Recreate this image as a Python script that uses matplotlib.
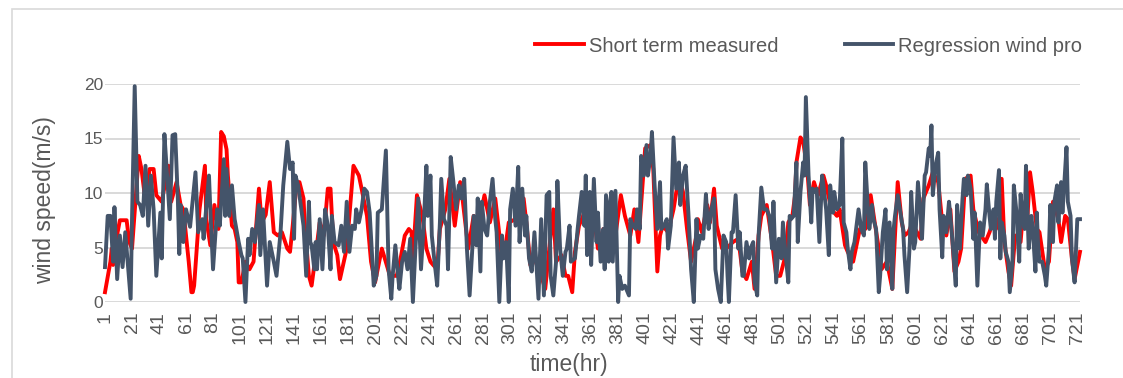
import matplotlib
matplotlib.use("Agg")
import matplotlib.pyplot as plt
from matplotlib import font_manager
from matplotlib.patches import Rectangle

# Hourly wind speed (m/s): measured short-term record
hours_measured = [
    1, 5, 6, 7, 9, 12, 17, 19, 21, 26, 28, 31, 34, 37, 39, 43, 48, 50, 54, 57, 59, 63, 65, 66, 67,
    71, 75, 76, 79, 82, 85, 87, 89, 91, 92, 95, 97, 99, 100, 102, 105, 108, 111, 115, 117, 120,
    123, 126, 129, 132, 136, 138, 140, 143, 145, 148, 149, 152, 154, 157, 160, 163, 166, 168, 170,
    173, 175, 180, 185, 189, 191, 195, 198, 201, 206, 212, 217, 219, 223, 226, 228, 229, 232, 236,
    239, 242, 244, 247, 249, 253, 256, 260, 264, 266, 270, 274, 278, 282, 286, 290, 292, 295, 297,
    300, 305, 308, 311, 313, 316, 319, 324, 327, 329, 333, 335, 339, 342, 344, 347, 349, 352, 355,
    359, 363, 366, 370, 374, 379, 383, 386, 390, 393, 396, 398, 401, 405, 407, 410, 412, 414, 418,
    422, 426, 429, 432, 435, 439, 440, 443, 447, 449, 452, 454, 458, 461, 466, 470, 473, 476, 480,
    482, 485, 487, 491, 495, 498, 501, 505, 507, 510, 512, 513, 516, 518, 521, 523, 526, 529, 533,
    535, 539, 543, 545, 549, 551, 555, 560, 564, 568, 571, 574, 576, 580, 584, 587, 588, 591, 593,
    596, 598, 601, 605, 607, 611, 614, 618, 621, 624, 627, 630, 633, 635, 638, 642, 644, 648, 653,
    656, 660, 663, 665, 667, 670, 672, 675, 679, 681, 684, 686, 688, 691, 693, 697, 700, 703, 707,
    709, 712, 714, 717, 719, 723,
]
speed_measured = [
    0.9, 3.7, 4.9, 3.4, 5.5, 7.5, 7.5, 5.5, 4.9, 13.4, 12.2, 9.2, 12.2, 12.2, 9.8, 9.2, 12.5, 9.2,
    11.0, 8.9, 8.5, 3.7, 0.9, 0.9, 1.5, 8.5, 12.5, 7.6, 5.2, 8.9, 6.7, 15.6, 15.2, 14.0, 11.6, 7.0,
    6.7, 5.5, 1.8, 1.8, 3.7, 3.0, 3.7, 10.4, 7.3, 8.0, 11.0, 6.4, 6.1, 6.4, 4.9, 4.6, 7.0, 11.0,
    11.0, 9.5, 7.0, 2.4, 1.5, 4.3, 7.3, 6.1, 10.4, 10.4, 5.5, 4.3, 2.1, 4.9, 12.5, 11.6, 10.4, 7.9,
    3.7, 1.8, 4.9, 2.4, 2.4, 3.4, 6.1, 6.7, 6.4, 4.0, 9.8, 7.9, 4.9, 3.7, 3.4, 3.0, 6.7, 8.5, 11.3,
    7.0, 11.0, 9.2, 4.9, 7.9, 7.3, 9.8, 7.3, 9.5, 7.3, 4.0, 4.6, 7.3, 7.6, 9.2, 9.5, 7.3, 3.4, 4.0,
    2.4, 1.2, 3.7, 8.5, 3.7, 4.3, 2.4, 2.4, 0.9, 4.6, 7.0, 7.9, 9.8, 7.9, 4.9, 6.7, 4.9, 6.1, 9.8,
    7.9, 6.1, 8.5, 5.5, 8.9, 14.1, 14.4, 12.2, 2.8, 6.1, 7.0, 6.4, 8.5, 11.6, 10.1, 6.7, 3.7, 6.1,
    7.6, 6.4, 8.9, 7.3, 10.4, 7.0, 4.9, 4.9, 5.5, 5.8, 2.8, 2.1, 3.7, 1.2, 6.1, 7.9, 8.9, 5.5, 2.4,
    2.4, 4.3, 7.3, 7.9, 9.8, 12.8, 15.1, 14.7, 12.2, 8.9, 11.0, 9.8, 11.6, 10.7, 8.5, 7.9, 8.5, 5.2,
    4.6, 3.7, 6.7, 6.7, 9.8, 7.3, 4.9, 3.0, 3.7, 1.2, 8.5, 11.0, 7.3, 6.1, 6.4, 7.0, 6.7, 5.8, 9.5,
    10.7, 11.9, 11.0, 7.3, 6.1, 8.5, 2.8, 3.7, 4.9, 11.3, 11.6, 8.5, 6.4, 5.5, 6.4, 7.9, 6.7, 11.3,
    5.5, 2.8, 1.5, 6.1, 5.5, 8.5, 7.6, 11.9, 10.1, 6.7, 6.4, 3.0, 3.7, 9.2, 7.6, 5.5, 7.9, 7.6, 4.0,
    2.1, 4.6,
]

# Hourly wind speed (m/s): regression wind profile
hours_regression = [
    1, 3, 5, 7, 8, 10, 12, 14, 16, 20, 21, 23, 25, 27, 29, 31, 33, 35, 37, 39, 42, 43, 45, 47, 49,
    51, 53, 55, 56, 57, 59, 61, 64, 68, 70, 73, 74, 78, 79, 81, 84, 86, 89, 90, 91, 93, 95, 97, 100,
    102, 103, 105, 107, 108, 110, 112, 115, 116, 118, 121, 123, 126, 128, 131, 133, 136, 138, 140,
    141, 142, 144, 147, 148, 150, 152, 153, 154, 156, 157, 158, 160, 162, 164, 166, 168, 169, 171,
    174, 176, 178, 180, 182, 184, 186, 187, 189, 191, 193, 195, 197, 200, 202, 203, 206, 209, 211,
    213, 214, 216, 218, 219, 221, 223, 225, 227, 229, 231, 233, 235, 237, 239, 240, 242, 243, 245,
    247, 249, 250, 252, 254, 255, 257, 259, 261, 263, 265, 267, 269, 271, 273, 274, 276, 277, 279,
    280, 282, 284, 286, 288, 290, 291, 293, 295, 296, 298, 300, 301, 303, 305, 307, 308, 310, 312,
    313, 315, 317, 319, 321, 322, 324, 326, 328, 330, 331, 333, 335, 336, 338, 340, 342, 343, 345,
    346, 349, 351, 352, 354, 356, 357, 358, 360, 361, 363, 365, 366, 368, 370, 371, 372, 374, 375,
    376, 377, 379, 381, 382, 384, 386, 389, 390, 392, 394, 395, 397, 398, 400, 402, 403, 405, 406,
    408, 410, 412, 413, 415, 417, 418, 420, 422, 424, 426, 427, 429, 431, 433, 435, 437, 439, 440,
    442, 444, 446, 447, 448, 450, 452, 453, 455, 457, 459, 461, 462, 463, 465, 466, 468, 470, 471,
    473, 474, 476, 478, 479, 481, 482, 484, 485, 487, 489, 491, 493, 495, 496, 498, 500, 502, 503,
    505, 507, 508, 509, 511, 513, 514, 516, 518, 519, 520, 522, 524, 525, 527, 528, 530, 532, 533,
    535, 537, 538, 540, 541, 543, 545, 547, 548, 550, 551, 553, 554, 556, 559, 561, 563, 564, 566,
    567, 569, 570, 572, 574, 575, 577, 579, 580, 582, 584, 585, 586, 588, 590, 592, 593, 595, 597,
    598, 600, 601, 603, 605, 606, 608, 609, 611, 612, 613, 614, 616, 618, 619, 621, 622, 624, 626,
    627, 629, 631, 632, 634, 636, 637, 639, 640, 642, 644, 645, 647, 649, 651, 653, 654, 656, 657,
    659, 660, 661, 663, 664, 665, 667, 668, 670, 671, 673, 674, 676, 677, 678, 679, 681, 682, 683,
    685, 687, 688, 690, 691, 692, 693, 695, 697, 698, 700, 701, 703, 704, 706, 707, 709, 710, 711,
    713, 714, 716, 717, 719, 721, 723,
]
speed_regression = [
    3.2, 7.9, 7.9, 3.7, 8.7, 2.1, 6.1, 3.2, 6.4, 0.3, 7.6, 19.8, 9.2, 8.9, 7.9, 12.5, 7.0, 11.6,
    8.5, 2.4, 8.2, 4.0, 15.4, 11.6, 7.6, 15.3, 15.4, 9.2, 4.4, 8.9, 5.5, 8.5, 6.9, 11.9, 6.4, 7.6,
    5.8, 11.6, 8.5, 3.0, 8.5, 7.0, 13.1, 7.9, 12.2, 7.9, 10.7, 7.6, 5.5, 4.3, 4.0, 0.0, 5.8, 4.3,
    6.7, 5.5, 8.9, 4.3, 8.5, 1.5, 5.5, 3.7, 2.4, 6.4, 10.7, 14.7, 12.2, 12.8, 5.8, 11.6, 10.7, 7.9,
    7.0, 2.4, 9.2, 5.5, 5.2, 3.0, 5.5, 3.0, 7.6, 3.0, 8.5, 7.0, 3.0, 7.9, 5.5, 5.2, 7.0, 4.6, 9.2,
    4.6, 7.0, 6.7, 8.5, 7.3, 8.5, 10.4, 10.1, 8.2, 1.5, 2.4, 8.2, 8.5, 13.9, 3.0, 0.3, 2.4, 5.2,
    2.4, 1.2, 3.7, 4.6, 3.0, 5.8, 0.0, 5.2, 9.5, 3.0, 7.0, 12.5, 7.9, 11.6, 6.1, 3.7, 1.5, 7.3,
    11.3, 7.6, 7.0, 3.0, 13.3, 11.0, 8.5, 10.7, 9.5, 11.3, 4.9, 0.6, 4.9, 7.9, 5.2, 9.5, 2.8, 9.2,
    6.7, 6.1, 9.2, 11.3, 7.6, 6.4, 0.0, 6.1, 4.0, 5.5, 0.0, 8.5, 10.4, 7.0, 12.4, 5.5, 10.4, 6.1,
    7.9, 4.0, 2.8, 6.4, 2.4, 0.3, 7.6, 0.6, 9.8, 10.1, 2.4, 0.6, 3.7, 11.1, 4.9, 2.4, 4.6, 4.9, 7.0,
    3.7, 4.0, 6.7, 7.9, 10.1, 7.0, 11.6, 4.3, 10.1, 3.4, 11.3, 5.5, 8.2, 3.7, 6.7, 3.0, 9.8, 3.7,
    9.2, 10.1, 3.7, 10.2, 0.0, 2.4, 1.2, 1.5, 0.6, 7.6, 7.0, 6.7, 8.5, 6.7, 13.4, 11.6, 14.4, 11.6,
    13.4, 15.6, 10.7, 6.7, 11.0, 6.7, 7.0, 7.6, 4.9, 7.0, 15.1, 10.4, 12.8, 8.9, 11.6, 12.5, 8.2,
    3.0, 0.0, 7.6, 4.9, 6.1, 5.8, 9.9, 7.9, 6.7, 8.5, 9.5, 3.0, 1.2, 0.0, 6.1, 5.5, 2.4, 0.0, 6.4,
    6.4, 9.8, 4.9, 6.4, 2.4, 2.4, 5.5, 4.0, 4.9, 5.5, 1.8, 0.6, 6.1, 10.5, 8.5, 8.5, 7.9, 4.9, 9.2,
    1.8, 5.8, 4.0, 7.3, 4.3, 1.8, 7.9, 7.6, 7.9, 12.8, 5.5, 10.1, 12.8, 11.6, 18.8, 11.6, 7.3, 10.4,
    10.1, 10.4, 5.5, 11.6, 10.7, 8.5, 4.3, 10.7, 8.2, 10.1, 8.5, 8.9, 15.0, 7.3, 6.4, 4.9, 3.0, 4.6,
    5.5, 8.5, 6.7, 6.1, 12.8, 8.5, 6.7, 8.9, 7.6, 6.7, 0.9, 2.4, 6.4, 8.5, 3.0, 7.3, 1.2, 6.7, 7.9,
    9.8, 8.2, 6.7, 4.3, 0.9, 5.5, 10.1, 4.9, 5.5, 11.0, 7.9, 5.8, 11.6, 11.9, 14.1, 13.4, 16.2, 9.8,
    12.5, 13.7, 8.5, 4.1, 7.9, 6.4, 9.2, 7.9, 4.9, 1.5, 8.9, 4.9, 9.5, 11.3, 9.8, 11.6, 10.4, 5.8,
    8.2, 1.5, 7.3, 6.1, 8.5, 10.8, 7.9, 6.7, 8.5, 5.8, 9.2, 12.1, 4.0, 7.3, 6.1, 4.6, 3.7, 0.9, 3.7,
    10.7, 8.2, 5.8, 3.7, 9.9, 7.3, 6.7, 12.5, 4.9, 7.9, 6.7, 2.8, 8.2, 5.2, 3.7, 3.7, 2.4, 1.5, 4.9,
    8.9, 5.5, 9.2, 10.7, 7.3, 11.0, 8.2, 10.1, 14.2, 9.2, 7.9, 4.0, 1.8, 7.6, 7.6,
]

tick_hours = list(range(1, 722, 20))
series_names = ["Short term measured", "Regression wind pro"]
series_colors = ["#FF0000", "#44546A"]

installed = {f.name for f in font_manager.fontManager.ttflist}
text_font = "Liberation Sans Narrow" if "Liberation Sans Narrow" in installed else "Liberation Sans"
plt.rcParams["font.family"] = [text_font, "DejaVu Sans"]
label_color = "#595959"

W, H = 1123, 378
fig = plt.figure(figsize=(W / 100, H / 100), dpi=100)
fig.patch.set_facecolor("white")

# chart-area border
fig.patches.append(Rectangle((12 / W, -0.05), 1.2, 1 - 9 / H + 0.05, transform=fig.transFigure,
                             facecolor="none", edgecolor="#D9D9D9", linewidth=1.2))

ax = fig.add_axes([105 / W, 1 - 302 / H, 975 / W, 218 / H])
ax.plot(hours_measured, speed_measured, color=series_colors[0], lw=2.8,
        solid_joinstyle="round", clip_on=False, zorder=3, label=series_names[0])
ax.plot(hours_regression, speed_regression, color=series_colors[1], lw=2.8,
        solid_joinstyle="round", clip_on=False, zorder=4, label=series_names[1])

ax.set_xlim(1, 723)
ax.set_ylim(0, 20)
ax.set_yticks([0, 5, 10, 15, 20])
ax.yaxis.grid(True, color="#D9D9D9", linewidth=1.4)
ax.set_axisbelow(True)
for s in ax.spines.values():
    s.set_visible(False)

ax.set_xticks(tick_hours)
ax.set_xticklabels([str(h) for h in tick_hours], rotation=90, va="top", ha="center")
ax.tick_params(axis="x", length=0, pad=7, labelsize=14, colors=label_color)
ax.tick_params(axis="y", length=0, pad=1.5, labelsize=12.5, colors=label_color)

fig.text(569 / W, 1 - 365 / H, "time(hr)", ha="center", va="center",
         fontsize=16.5, color=label_color)
fig.text(45 / W, 1 - 200 / H, "wind speed(m/s)", ha="center", va="center",
         rotation=90, fontsize=16.5, color=label_color)

ax.legend(loc="center right", bbox_to_anchor=(1082 / W, 1 - 46 / H),
          bbox_transform=fig.transFigure, ncol=2, frameon=False, fontsize=14.5,
          handlelength=2.4, handletextpad=0.25, columnspacing=3.3,
          labelcolor=label_color, borderaxespad=0, borderpad=0)

fig.savefig("out.png", dpi=100, facecolor="white")
